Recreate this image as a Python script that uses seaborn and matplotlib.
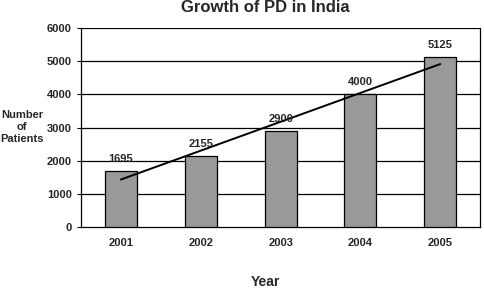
import matplotlib
matplotlib.use('Agg')
import matplotlib.pyplot as plt
import seaborn as sns
import pandas as pd
import numpy as np

years = ['2001', '2002', '2003', '2004', '2005']
patients = [1695, 2155, 2900, 4000, 5125]
y_ticks = [0, 1000, 2000, 3000, 4000, 5000, 6000]

sns.set_style('white')
plt.rcParams['font.family'] = ['Liberation Sans', 'DejaVu Sans']
plt.rcParams['font.weight'] = 'bold'

df = pd.DataFrame({'year': years, 'patients': patients})

fig = plt.figure(figsize=(4.85, 2.9), dpi=100)
ax = fig.add_axes([0.167, 0.217, 0.823, 0.686])

sns.barplot(data=df, x='year', y='patients', color='#999999', saturation=1,
            edgecolor='black', linewidth=0.9, width=0.4, ax=ax, zorder=3)

# linear trend line
sns.regplot(x=np.arange(len(patients)), y=np.array(patients), scatter=False,
            ci=None, truncate=True, color='black', line_kws={'linewidth': 1.4, 'zorder': 4}, ax=ax)

for i, v in enumerate(patients):
    ax.annotate(str(v), (i, v), xytext=(0, 5), textcoords='offset points',
                ha='center', va='bottom', fontsize=8, fontweight='bold', zorder=5)

ax.set_ylim(0, 6000)
ax.set_xlim(-0.5, 4.5)
ax.set_yticks(y_ticks)
for t in y_ticks[1:]:
    ax.axhline(t, color='black', linewidth=0.9, zorder=1)

ax.set_xticks(np.arange(-0.5, 5, 1), minor=True)
ax.tick_params(axis='x', which='major', length=0, labelsize=8, pad=8)
ax.tick_params(axis='x', which='minor', length=3, width=0.8, direction='out', color='black')
ax.tick_params(axis='y', length=3, width=0.8, direction='out', color='black', labelsize=8, left=True)

for s in ['left', 'bottom']:
    ax.spines[s].set_color('black')
    ax.spines[s].set_linewidth(0.9)
ax.spines['top'].set_visible(False)
ax.spines['right'].set_color('black')
ax.spines['right'].set_linewidth(0.9)

ax.set_xlabel('')
ax.set_ylabel('')
fig.text(0.547, 0.973, 'Growth of PD in India', ha='center', va='center',
         fontsize=12, fontweight='bold')
fig.text(0.045, 0.562, 'Number\nof\nPatients', ha='center', va='center',
         fontsize=8, fontweight='bold', linespacing=1.2)
fig.text(0.547, 0.028, 'Year', ha='center', va='center', fontsize=10, fontweight='bold')

fig.savefig('out.png', dpi=100)
